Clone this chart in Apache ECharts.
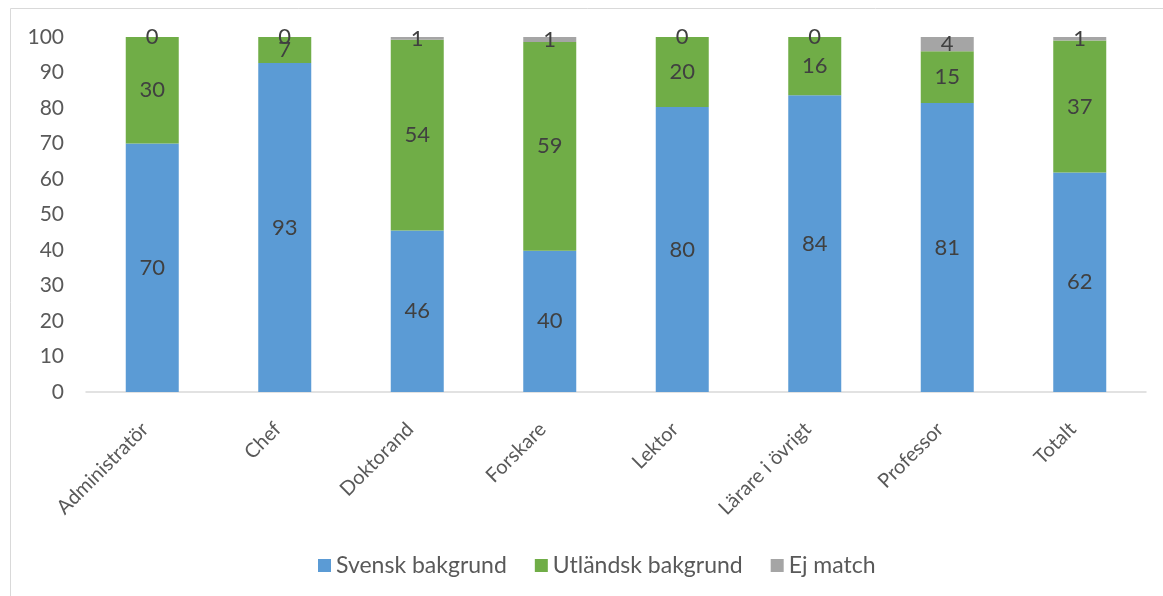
<!DOCTYPE html>
<html>
<head>
<meta charset="utf-8">
<script src="https://cdn.jsdelivr.net/npm/echarts@6/dist/echarts.min.js"></script>
<style>
  html, body { margin: 0; padding: 0; background: #fff; }
  #chart { width: 1163px; height: 596px; }
</style>
</head>
<body>
<div id="chart"></div>
<script>
// categories and shares (%)
const categories = ['Administratör', 'Chef', 'Doktorand', 'Forskare', 'Lektor', 'Lärare i övrigt', 'Professor', 'Totalt']
const svensk = [70, 92.7, 45.5, 39.8, 80.3, 83.6, 81.4, 61.8]
const utlandsk = [30, 7.3, 53.7, 58.8, 19.7, 16.4, 14.6, 37.2]
const ejMatch = [0, 0, 0.8, 1.4, 0, 0, 4.0, 1.0]

const font = 'Lato, "Open Sans", sans-serif'

let chartDom = document.getElementById('chart')
let myChart = echarts.init(chartDom)

function makeSeries(name, data, color) {
  return {
    name: name,
    type: 'bar',
    stack: 'total',
    barWidth: '40%',
    data: data,
    itemStyle: { color: color },
    label: {
      show: true,
      position: 'inside',
      color: '#404040',
      fontFamily: font,
      fontSize: 22,
      formatter: p => Math.round(p.value)
    }
  }
}

let option = {
  animation: false,
  graphic: [
    {
      type: 'rect',
      shape: { x: 10.5, y: 8.5, width: 1300, height: 800 },
      style: { fill: 'none', stroke: '#d9d9d9', lineWidth: 1 },
      silent: true
    }
  ],
  grid: {
    left: 86,
    right: 17,
    top: 37,
    bottom: 204
  },
  legend: {
    bottom: 14,
    left: 313,
    itemWidth: 13,
    itemHeight: 13,
    itemGap: 28,
    icon: 'rect',
    textStyle: { color: '#595959', fontFamily: font, fontSize: 23 },
    data: ['Svensk bakgrund', 'Utländsk bakgrund', 'Ej match']
  },
  xAxis: {
    type: 'category',
    data: categories,
    axisLine: { lineStyle: { color: '#d9d9d9', width: 1.5 } },
    axisTick: { show: false },
    axisLabel: {
      rotate: 45,
      margin: 41,
      verticalAlign: 'bottom',
      color: '#595959',
      fontFamily: font,
      fontSize: 20
    }
  },
  yAxis: {
    type: 'value',
    min: 0,
    max: 100,
    interval: 10,
    axisLine: { show: false },
    axisTick: { show: false },
    splitLine: { show: false },
    axisLabel: {
      margin: 22,
      color: '#595959',
      fontFamily: font,
      fontSize: 21
    }
  },
  series: [
    makeSeries('Svensk bakgrund', svensk, '#5b9bd5'),
    makeSeries('Utländsk bakgrund', utlandsk, '#70ad47'),
    makeSeries('Ej match', ejMatch, '#a5a5a5')
  ]
}
myChart.setOption(option)

window.addEventListener('resize', () => {
  myChart.resize()
})
</script>
</body>
</html>
